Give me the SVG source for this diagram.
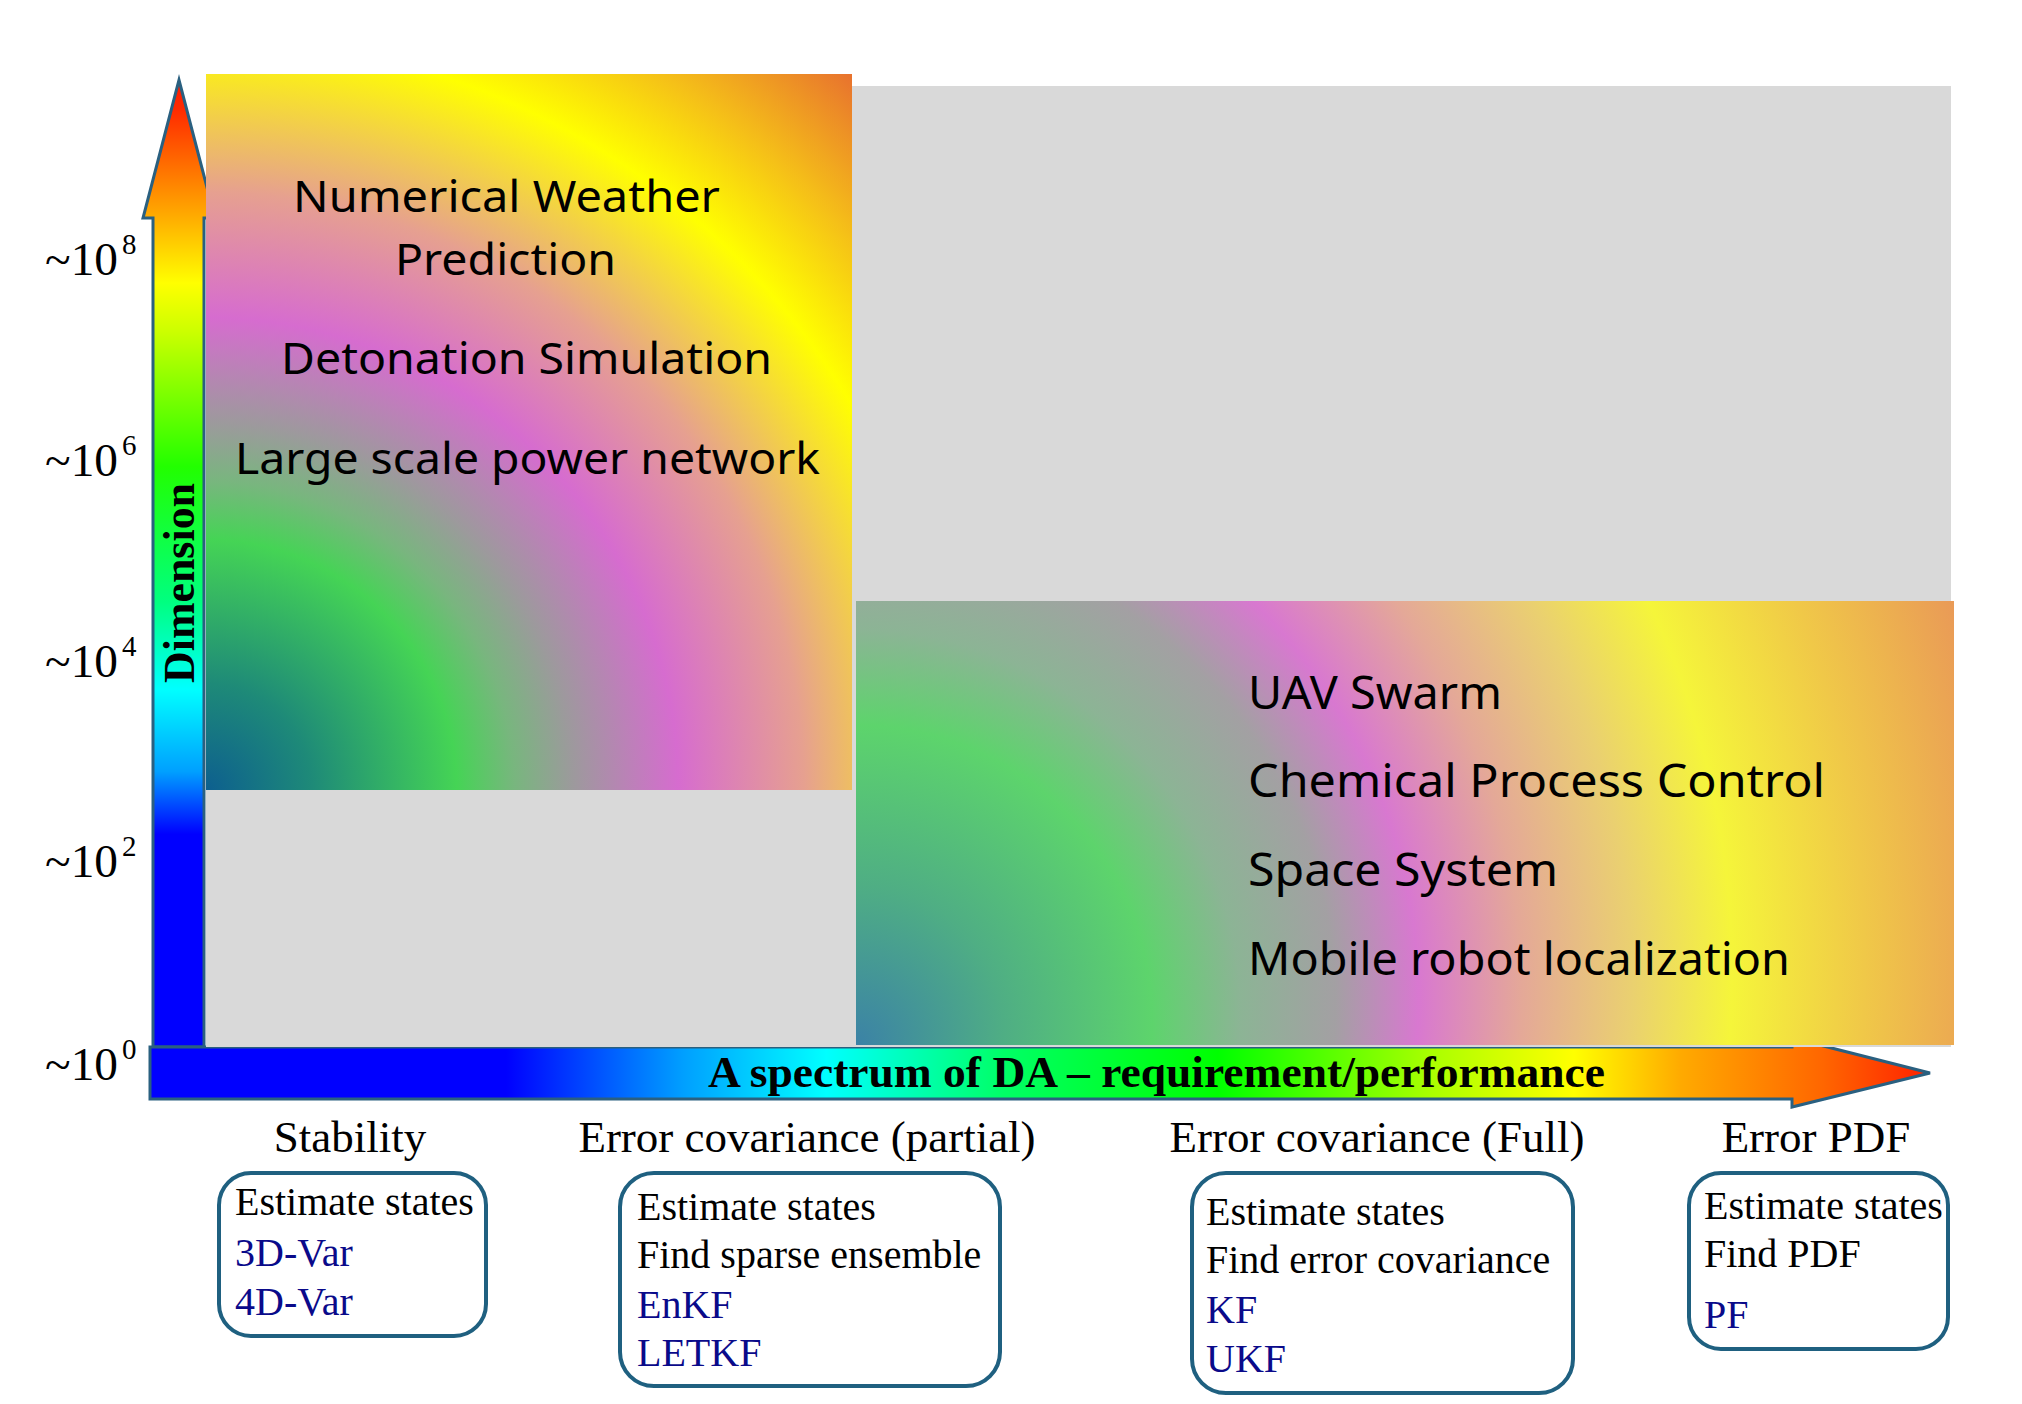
<svg xmlns="http://www.w3.org/2000/svg" width="2022" height="1404" viewBox="0 0 2022 1404">
<defs>
<linearGradient id="gV" gradientUnits="userSpaceOnUse" x1="0" y1="1047" x2="0" y2="80">
<stop offset="0" stop-color="#0000ff"/><stop offset="0.22" stop-color="#0000ff"/><stop offset="0.285" stop-color="#00a0ff"/><stop offset="0.37" stop-color="#00ffff"/><stop offset="0.46" stop-color="#00ff80"/><stop offset="0.6" stop-color="#22ff00"/><stop offset="0.74" stop-color="#ccff00"/><stop offset="0.79" stop-color="#ffff00"/><stop offset="0.86" stop-color="#ffaa00"/><stop offset="0.97" stop-color="#ff2a00"/><stop offset="1" stop-color="#ff1a00"/>
</linearGradient>
<linearGradient id="gH" gradientUnits="userSpaceOnUse" x1="150" y1="0" x2="1930" y2="0">
<stop offset="0" stop-color="#0000ff"/><stop offset="0.2" stop-color="#0000ff"/><stop offset="0.3" stop-color="#00a0ff"/><stop offset="0.38" stop-color="#00ffff"/><stop offset="0.48" stop-color="#00ff66"/><stop offset="0.6" stop-color="#00ff00"/><stop offset="0.72" stop-color="#aaff00"/><stop offset="0.8" stop-color="#ffff00"/><stop offset="0.86" stop-color="#ffaa00"/><stop offset="0.94" stop-color="#ff6600"/><stop offset="1" stop-color="#ff2000"/>
</linearGradient>
<radialGradient id="gTL" gradientUnits="userSpaceOnUse" cx="206" cy="790" r="964" fx="206" fy="790">
<stop offset="0" stop-color="#0d5f8f"/><stop offset="0.11" stop-color="#1e8a78"/><stop offset="0.26" stop-color="#45d455"/><stop offset="0.32" stop-color="#78b67e"/><stop offset="0.38" stop-color="#9c9a9c"/><stop offset="0.49" stop-color="#d66ccf"/><stop offset="0.62" stop-color="#e6a090"/><stop offset="0.78" stop-color="#ffff00"/><stop offset="0.88" stop-color="#f5c018"/><stop offset="1" stop-color="#e8722e"/>
</radialGradient>
<radialGradient id="gBR" gradientUnits="userSpaceOnUse" cx="856" cy="950" r="1184" fx="856" fy="1045">
<stop offset="0" stop-color="#3b82a6"/><stop offset="0.125" stop-color="#4fae84"/><stop offset="0.25" stop-color="#5dd46c"/><stop offset="0.325" stop-color="#8cb495"/><stop offset="0.405" stop-color="#a3a0a3"/><stop offset="0.475" stop-color="#d878d0"/><stop offset="0.562" stop-color="#e4a898"/><stop offset="0.655" stop-color="#ead070"/><stop offset="0.74" stop-color="#f5f53a"/><stop offset="0.852" stop-color="#f0c848"/><stop offset="1" stop-color="#e8905a"/>
</radialGradient>
<style>
.sans{font-family:"Noto Sans","Open Sans",sans-serif;font-size:43px;fill:#000}
.narrow{font-family:"Noto Sans","Roboto",sans-serif;font-size:46px;fill:#000}
.serif{font-family:"Liberation Serif","Times New Roman",serif;fill:#000}
.cat{font-size:45px;text-anchor:middle}
.bt{font-size:40px}
.blue{fill:#0a0a8a}
.tick{font-size:46px}
.sup{font-size:29px}
.box{fill:#fff;stroke:#1f6080;stroke-width:4}
.arrow{stroke:#2a6080;stroke-width:3;stroke-linejoin:miter}
.bold{font-weight:bold}
</style>
</defs>
<rect width="2022" height="1404" fill="#fff"/>

<g id="axes">
<polygon class="arrow" fill="url(#gV)" points="153,1047 153,218 143,218 179,80 215,218 204,218 204,1047"/>
<polygon class="arrow" fill="url(#gH)" points="150,1047 1792,1047 1792,1038 1930,1073 1792,1107 1792,1099 150,1099"/>
</g>

<g id="background">
<rect x="206" y="86" width="1745" height="961" fill="#d9d9d9"/>
</g>

<g id="node-high-dim">
<rect x="206" y="74" width="646" height="716" fill="url(#gTL)"/>
<text class="sans" x="293" y="212" textLength="427" lengthAdjust="spacingAndGlyphs">Numerical Weather</text>
<text class="sans" x="395" y="275" textLength="221" lengthAdjust="spacingAndGlyphs">Prediction</text>
<text class="sans" x="281" y="374" textLength="491" lengthAdjust="spacingAndGlyphs">Detonation Simulation</text>
<text class="sans" x="235" y="474" textLength="585" lengthAdjust="spacingAndGlyphs">Large scale power network</text>
</g>

<g id="node-low-dim">
<rect x="856" y="601" width="1098" height="444" fill="url(#gBR)"/>
<text class="narrow" x="1248" y="709" textLength="254" lengthAdjust="spacingAndGlyphs">UAV Swarm</text>
<text class="narrow" x="1248" y="797" textLength="577" lengthAdjust="spacingAndGlyphs">Chemical Process Control</text>
<text class="narrow" x="1248" y="886" textLength="310" lengthAdjust="spacingAndGlyphs">Space System</text>
<text class="narrow" x="1248" y="975" textLength="542" lengthAdjust="spacingAndGlyphs">Mobile robot localization</text>
</g>

<g id="axis-labels">
<text class="serif bold" font-size="44" fill="#083a40" transform="translate(194,583) rotate(-90)" text-anchor="middle" textLength="200" lengthAdjust="spacingAndGlyphs">Dimension</text>
<text class="serif bold" font-size="44" x="708" y="1087" textLength="897" lengthAdjust="spacingAndGlyphs">A spectrum of DA – requirement/performance</text>
</g>

<g id="ticks">
<text class="serif tick" x="45" y="275" textLength="73" lengthAdjust="spacingAndGlyphs">~10</text><text class="serif sup" x="122" y="254">8</text>
<text class="serif tick" x="45" y="476" textLength="73" lengthAdjust="spacingAndGlyphs">~10</text><text class="serif sup" x="122" y="455">6</text>
<text class="serif tick" x="45" y="677" textLength="73" lengthAdjust="spacingAndGlyphs">~10</text><text class="serif sup" x="122" y="656">4</text>
<text class="serif tick" x="45" y="877" textLength="73" lengthAdjust="spacingAndGlyphs">~10</text><text class="serif sup" x="122" y="856">2</text>
<text class="serif tick" x="45" y="1080" textLength="73" lengthAdjust="spacingAndGlyphs">~10</text><text class="serif sup" x="122" y="1059">0</text>
</g>

<g id="categories">
<text class="serif cat" x="350" y="1152">Stability</text>
<text class="serif cat" x="807" y="1152">Error covariance (partial)</text>
<text class="serif cat" x="1377" y="1152">Error covariance (Full)</text>
<text class="serif cat" x="1816" y="1152">Error PDF</text>
</g>

<g id="box-stability">
<rect class="box" x="219" y="1173" width="267" height="163" rx="32"/>
<text class="serif bt" x="235" y="1215">Estimate states</text>
<text class="serif bt blue" x="235" y="1266">3D-Var</text>
<text class="serif bt blue" x="235" y="1315">4D-Var</text>
</g>

<g id="box-partial">
<rect class="box" x="620" y="1173" width="380" height="213" rx="34"/>
<text class="serif bt" x="637" y="1220">Estimate states</text>
<text class="serif bt" x="637" y="1268">Find sparse ensemble</text>
<text class="serif bt blue" x="637" y="1318">EnKF</text>
<text class="serif bt blue" x="637" y="1366">LETKF</text>
</g>

<g id="box-full">
<rect class="box" x="1192" y="1173" width="381" height="220" rx="34"/>
<text class="serif bt" x="1206" y="1225">Estimate states</text>
<text class="serif bt" x="1206" y="1273">Find error covariance</text>
<text class="serif bt blue" x="1206" y="1323">KF</text>
<text class="serif bt blue" x="1206" y="1372">UKF</text>
</g>

<g id="box-pdf">
<rect class="box" x="1689" y="1173" width="259" height="176" rx="32"/>
<text class="serif bt" x="1704" y="1219">Estimate states</text>
<text class="serif bt" x="1704" y="1267">Find PDF</text>
<text class="serif bt blue" x="1704" y="1328">PF</text>
</g>
</svg>
